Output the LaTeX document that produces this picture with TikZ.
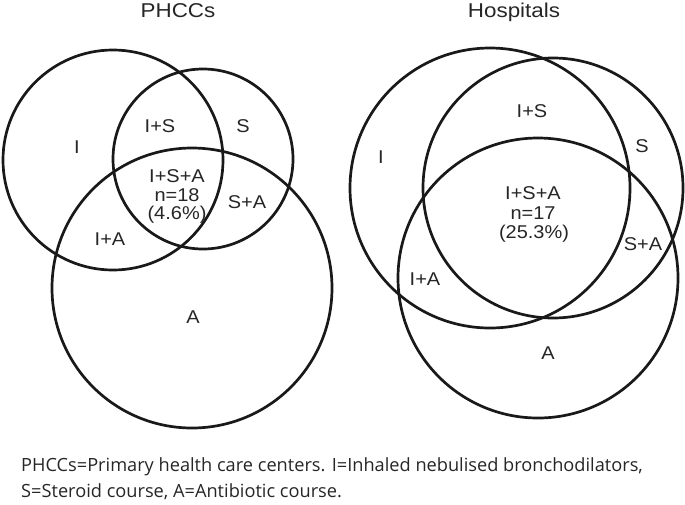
\documentclass[tikz,border=0pt]{standalone}
\usepackage{fontspec}
\setmainfont{Liberation Sans}
\newfontfamily\capfont{Open Sans}
\newcommand{\lbltext}[1]{\scalebox{1.08}[1]{#1}}
\newcommand{\ttltext}[1]{\scalebox{1.12}[1]{#1}}
\begin{document}
\begin{tikzpicture}[x=1pt,y=-1pt,
  ring/.style={line width=2.7pt,draw=black!90},
  lbl/.style={anchor=base,inner sep=0pt,text=black!85,font=\fontsize{18.5}{18.5}\selectfont},
  ttl/.style={anchor=base,inner sep=0pt,text=black!85,font=\fontsize{20}{20}\selectfont},
  captxt/.style={anchor=base west,inner sep=0pt,text=black!85,font=\capfont\fontsize{18.2}{18.2}\selectfont}]
\useasboundingbox (0,0) rectangle (685,504);
% left diagram
\coordinate (LI) at (113,160);
\coordinate (LS) at (203,159);
\coordinate (LA) at (192,288);
\draw[ring] (LI) circle (110);
\draw[ring] (LS) circle (90);
\draw[ring] (LA) circle (140);
% right diagram
\coordinate (RI) at (490,188);
\coordinate (RS) at (553,188);
\coordinate (RA) at (538,278);
\draw[ring] (RI) circle (140);
\draw[ring] (RS) circle (130);
\draw[ring] (RA) circle (140);
% titles
\node[ttl] (t1) at (178,17.3) {\ttltext{PHCCs}};
\node[ttl] (t2) at (514,17.3) {\ttltext{Hospitals}};
% left labels
\node[lbl] (lI) at (77,153) {\lbltext{I}};
\node[lbl] (lIS) at (160,132) {\lbltext{I+S}};
\node[lbl] (lS) at (243,132) {\lbltext{S}};
\node[lbl] (lISA) at (177,182) {\lbltext{I+S+A}};
\node[lbl] (ln) at (177,201) {\lbltext{n=18}};
\node[lbl] (lp) at (177,219) {\lbltext{(4.6\%)}};
\node[lbl] (lSA) at (247,208) {\lbltext{S+A}};
\node[lbl] (lIA) at (110,245) {\lbltext{I+A}};
\node[lbl] (lA) at (193,323) {\lbltext{A}};
% right labels
\node[lbl] (rIS) at (532,117) {\lbltext{I+S}};
\node[lbl] (rI) at (381,163) {\lbltext{I}};
\node[lbl] (rS) at (642,152) {\lbltext{S}};
\node[lbl] (rISA) at (533,199) {\lbltext{I+S+A}};
\node[lbl] (rn) at (533,219) {\lbltext{n=17}};
\node[lbl] (rp) at (534,238) {\lbltext{(25.3\%)}};
\node[lbl] (rSA) at (643,250) {\lbltext{S+A}};
\node[lbl] (rIA) at (425,285) {\lbltext{I+A}};
\node[lbl] (rA) at (548,359) {\lbltext{A}};
% caption
\node[captxt] (c1) at (21,471.5) {PHCCs=Primary health care centers. I=Inhaled nebulised bronchodilators,};
\node[captxt] (c2) at (21,497) {S=Steroid course, A=Antibiotic course.};
\end{tikzpicture}
\end{document}
